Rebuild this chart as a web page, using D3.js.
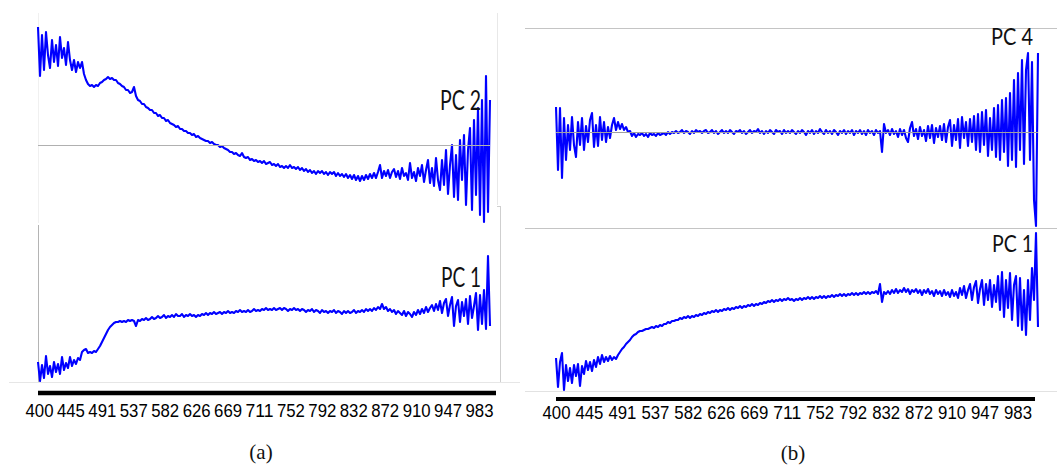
<!DOCTYPE html>
<html>
<head>
<meta charset="utf-8">
<script src="https://cdn.jsdelivr.net/npm/d3@7"></script>
<style>
  html, body { margin: 0; padding: 0; background: #fff; }
  svg { display: block; }
</style>
</head>
<body>
<svg id="chart" width="1057" height="465"></svg>
<script>
// Band labels (nm) shown under both panels
const wavelengthTicks = ["400", "445", "491", "537", "582", "626", "669", "711",
  "752", "792", "832", "872", "910", "947", "983"];

// Principal component loadings (×10³), evenly sampled across the spectral range
const pc2A = [
  118, 69, 110, 75, 113, 90, 77, 105, 83, 100,
  79, 108, 87, 97, 80, 103, 85, 75, 85, 73,
  83, 77, 83, 71, 65, 61, 59, 60, 58, 60,
  59, 62, 63, 65, 66, 68, 66, 67, 65, 65,
  62, 61, 59, 58, 55, 55, 52, 53, 58, 49,
  45, 44, 41, 41, 38, 37, 35, 35, 32, 32,
  29, 30, 27, 27, 24, 25, 22, 21, 20, 18,
  19, 16, 16, 14, 14, 12, 12, 10, 11, 8,
  9, 7, 6, 5, 4, 4, 2, 3, 1, 0,
  0, -2, -1, -3, -4, -5, -7, -7, -9, -8,
  -10, -11, -8, -12, -13, -12, -15, -14, -16, -15,
  -17, -16, -18, -16, -19, -18, -17, -20, -19, -21,
  -19, -22, -21, -23, -21, -23, -20, -23, -22, -24,
  -22, -25, -23, -26, -24, -27, -25, -28, -26, -29,
  -26, -28, -26, -29, -27, -30, -27, -29, -27, -31,
  -28, -31, -29, -32, -29, -33, -30, -34, -30, -35,
  -31, -36, -31, -35, -30, -34, -29, -33, -28, -33,
  -27, -20, -33, -26, -31, -25, -33, -27, -24, -32,
  -26, -34, -23, -31, -28, -35, -18, -33, -27, -36,
  -23, -31, -20, -37, -25, -15, -38, -23, -41, -13,
  -35, -45, -15, -40, -5, -49, -20, 0, -52, -10,
  -55, 5, -35, 10, -60, -5, 17, -65, 25, -50,
  37, -70, 45, -77, 69, -67, 45
];

const pc1A = [
  20, 1, 17, 4, 26, 8, 16, 5, 20, 10,
  18, 8, 25, 12, 19, 14, 25, 16, 22, 18,
  24, 22, 30, 32, 33, 29, 30, 29, 31, 30,
  33, 36, 40, 44, 48, 52, 55, 57, 59, 60,
  60, 61, 60, 61, 60, 62, 61, 62, 61, 56,
  62, 61, 63, 62, 64, 62, 63, 65, 63, 64,
  66, 64, 65, 67, 64, 66, 65, 67, 65, 68,
  66, 66, 68, 65, 67, 66, 68, 66, 67, 65,
  67, 66, 68, 67, 69, 67, 69, 68, 70, 68,
  69, 70, 68, 70, 69, 71, 69, 70, 69, 71,
  70, 72, 70, 71, 70, 72, 70, 71, 73, 71,
  72, 71, 73, 72, 74, 72, 73, 72, 74, 72,
  73, 74, 72, 74, 73, 71, 73, 72, 74, 72,
  73, 71, 73, 72, 70, 72, 71, 73, 70, 72,
  71, 69, 72, 70, 71, 69, 71, 70, 72, 69,
  71, 70, 68, 71, 69, 71, 69, 70, 72, 69,
  71, 70, 72, 70, 73, 71, 73, 71, 74, 72,
  75, 73, 78, 73, 75, 71, 73, 70, 72, 68,
  71, 69, 67, 71, 66, 70, 68, 65, 70, 67,
  72, 68, 73, 69, 75, 70, 74, 77, 71, 78,
  72, 81, 69, 79, 83, 66, 77, 85, 56, 76,
  82, 60, 80, 66, 83, 58, 86, 64, 76, 89,
  52, 87, 58, 92, 53, 126, 56
];

const pc4B = [
  25, -38, 24, -46, 14, -28, 7, -18, 15, -13,
  -25, 10, -13, 14, -18, 6, -10, 12, 19, -15,
  7, -14, 15, -8, 10, -10, 5, -6, 7, 14,
  2, 10, 3, 8, 2, 5, 0, 1, -4, -1,
  -5, -2, -3, -1, -4, -2, -5, -1, -3, -2,
  -4, -1, -3, -2, -1, -3, 0, -2, 0, -1,
  1, -1, 0, 2, -1, 1, 0, -2, 1, -1,
  2, 0, 1, -1, 1, 2, -1, 0, 2, -1,
  1, -2, 0, 2, -1, 1, -1, 2, 0, -2,
  1, 0, 2, -1, 1, -2, 0, 2, -1, 1,
  0, 3, -1, 1, -2, 1, -1, 2, 0, -2,
  2, 0, 1, -2, 2, -1, 1, -1, 2, 0,
  -2, 1, -1, 2, 0, -3, 1, -1, 2, -2,
  1, -1, 3, 0, -2, 2, -1, 1, -2, 2,
  0, -3, 1, -1, 2, -2, 1, -1, 2, -3,
  1, -1, 2, -2, 1, -3, 2, -1, 1, -3,
  2, -1, 1, -20, 8, -1, 2, -3, 3, -2,
  1, -5, 3, -3, 2, -6, -10, 4, 10, -4,
  3, -7, 5, -4, 2, -9, 6, -6, 7, -11,
  4, -5, 6, -8, 8, -10, 5, 12, -14, 7,
  -8, 13, -16, 15, -6, 10, -14, 13, -10, 16,
  -18, 18, -20, 20, -13, 22, -24, 14, -18, 24,
  -25, 27, -28, 32, -20, 34, -34, 39, -28, 52,
  -35, 59, -18, 72, -32, 62, 79, -28, 70, -68,
  -94, 79
];

const pc1B = [
  33, 4, 29, 38, 1, 26, 10, 23, 8, 26,
  15, 27, 5, 25, 17, 30, 21, 29, 20, 31,
  24, 34, 27, 36, 29, 34, 30, 35, 31, 34,
  32, 36, 39, 42, 44, 47, 49, 51, 54, 56,
  57, 59, 60, 60, 61, 62, 62, 63, 64, 63,
  65, 64, 66, 65, 67, 67, 69, 68, 70, 70,
  71, 71, 73, 72, 74, 73, 75, 73, 75, 74,
  76, 75, 77, 76, 78, 77, 79, 78, 80, 79,
  81, 79, 81, 80, 82, 81, 83, 81, 83, 82,
  84, 83, 85, 83, 85, 84, 86, 85, 87, 85,
  87, 86, 88, 87, 89, 88, 90, 89, 91, 89,
  91, 90, 92, 90, 92, 91, 93, 91, 92, 90,
  92, 91, 93, 91, 93, 92, 94, 92, 94, 92,
  94, 93, 95, 93, 95, 93, 95, 94, 96, 94,
  96, 95, 97, 95, 97, 95, 97, 96, 98, 96,
  98, 96, 98, 97, 99, 97, 99, 97, 99, 98,
  100, 97, 107, 89, 99, 97, 100, 97, 101, 98,
  102, 98, 101, 99, 103, 99, 102, 97, 101, 99,
  102, 98, 101, 96, 101, 98, 102, 97, 100, 95,
  101, 97, 100, 95, 101, 96, 99, 94, 101, 95,
  99, 93, 103, 96, 105, 93, 101, 107, 91, 104,
  110, 88, 102, 111, 86, 107, 91, 111, 84, 106,
  89, 115, 81, 119, 74, 111, 83, 118, 71, 106,
  115, 65, 113, 61, 101, 56, 111, 71, 123, 91,
  158, 64
];

const svg = d3.select("#chart");
const lineBlue = "#0000ff";

function hline(x1, x2, y, color, w) {
  svg.append("line").attr("x1", x1).attr("x2", x2).attr("y1", y).attr("y2", y)
    .attr("stroke", color).attr("stroke-width", w || 1).attr("shape-rendering", "crispEdges");
}
function vline(x, y1, y2, color, w) {
  svg.append("line").attr("x1", x).attr("x2", x).attr("y1", y1).attr("y2", y2)
    .attr("stroke", color).attr("stroke-width", w || 1).attr("shape-rendering", "crispEdges");
}

// One loading curve drawn through its own x/y scales
function drawLoading(values, xRange, yDomain, yRange) {
  const x = d3.scaleLinear().domain([0, values.length - 1]).range(xRange);
  const y = d3.scaleLinear().domain(yDomain).range(yRange);
  svg.append("path")
    .datum(values)
    .attr("fill", "none")
    .attr("stroke", lineBlue)
    .attr("stroke-width", 2.1)
    .attr("stroke-linejoin", "round")
    .attr("d", d3.line().x((d, i) => x(i)).y(d => y(d)));
  return y;
}

function label(text, x, y, size, width) {
  svg.append("text")
    .attr("x", x).attr("y", y)
    .attr("font-family", "Lato, 'Open Sans', sans-serif")
    .attr("font-size", size)
    .attr("textLength", width)
    .attr("lengthAdjust", "spacingAndGlyphs")
    .attr("fill", "#111")
    .text(text);
}

function bandAxis(range, y) {
  const sx = d3.scalePoint().domain(wavelengthTicks).range(range);
  const g = svg.append("g")
    .attr("transform", `translate(0,${y})`)
    .call(d3.axisBottom(sx).tickSize(0).tickPadding(0));
  g.select(".domain").remove();
  g.attr("font-family", "'Liberation Sans', Arial, sans-serif").attr("font-size", 18);
  g.selectAll("text").attr("fill", "#000")
    .attr("textLength", 28).attr("lengthAdjust", "spacingAndGlyphs");
}

function caption(text, x, y) {
  svg.append("text")
    .attr("x", x).attr("y", y)
    .attr("text-anchor", "middle")
    .attr("font-family", "'Liberation Serif', 'Times New Roman', serif")
    .attr("font-size", 21)
    .attr("fill", "#111")
    .text(text);
}

// ---------- Panel (a) ----------
vline(38.5, 13, 223, "#f0f0f0");
vline(497.5, 13, 205, "#e8e8e8");
hline(497, 501, 206.5, "#cfcfcf");
vline(500.5, 206, 383, "#cfcfcf");
vline(38.5, 225, 382, "#b4b4b4");
hline(9, 520, 382.5, "#e6e6e6");

const yA2 = drawLoading(pc2A, [38, 490], [-80, 132], [225, 13]);
drawLoading(pc1A, [38, 490], [0, 157], [382, 225]);
hline(38, 490, Math.round(yA2(0)) + 0.5, "#b0b0b0");

svg.append("line").attr("x1", 38).attr("x2", 496).attr("y1", 393).attr("y2", 393)
  .attr("stroke", "#000").attr("stroke-width", 4.5);
bandAxis([39, 479], 404);

label("PC 2", 440, 110, 26, 41);
label("PC 1", 441, 287, 26, 40);
caption("(a)", 261, 459);

// ---------- Panel (b) ----------
hline(525, 1057, 28.5, "#c4c4c4");
hline(525, 1057, 228.5, "#c4c4c4");
hline(525, 1057, 391.5, "#e2e2e2");

const yB4 = drawLoading(pc4B, [556, 1038], [-96, 104], [228, 28]);
drawLoading(pc1B, [556, 1038], [0, 163], [391, 228]);
hline(556, 1038, Math.round(yB4(0)) + 0.5, "#a0a0a0");

svg.append("line").attr("x1", 556).attr("x2", 1035).attr("y1", 399).attr("y2", 399)
  .attr("stroke", "#000").attr("stroke-width", 4);
bandAxis([556, 1017.5], 406);

label("PC 4", 991, 45, 23.5, 42);
label("PC 1", 992, 252, 23.5, 41);
caption("(b)", 793, 460);
</script>
</body>
</html>
